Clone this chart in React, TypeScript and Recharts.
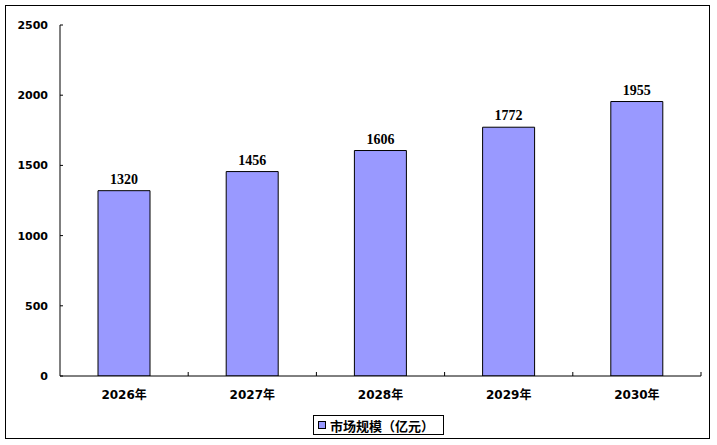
import React from 'react';
import { BarChart, Bar, XAxis, YAxis, LabelList, Legend } from 'recharts';

const categories = ['2026年', '2027年', '2028年', '2029年', '2030年'];
const marketSize = [1320, 1456, 1606, 1772, 1955];
const yTicks = [0, 500, 1000, 1500, 2000, 2500];
const seriesName = '市场规模（亿元）';

const data = categories.map((c, i) => ({ name: c, value: marketSize[i] }));

const W = 717;
const H = 445;
const PLOT_LEFT = 60;
const PLOT_RIGHT = 701;
const PLOT_TOP = 25;
const PLOT_BOTTOM = 376;
const X_AXIS_H = 30;
const BAND = (PLOT_RIGHT - PLOT_LEFT) / categories.length;

const YTick = (props: any) => {
  const { x, y, payload } = props;
  return (
    <g>
      <line x1={PLOT_LEFT} x2={PLOT_LEFT + 3} y1={y} y2={y} stroke="#000" strokeWidth={1} />
      <text x={x} y={y} dy="0.355em" textAnchor="end" fontFamily="DejaVu Sans" fontWeight="bold" fontSize={11} fill="#000">
        {payload.value}
      </text>
    </g>
  );
};

const XTick = (props: any) => {
  const { x, y, payload, index } = props;
  const left = x - BAND / 2;
  const isLast = index === categories.length - 1;
  return (
    <g>
      {index > 0 && (
        <line x1={left} x2={left} y1={PLOT_BOTTOM} y2={PLOT_BOTTOM - 4} stroke="#000" strokeWidth={1} />
      )}
      {isLast && (
        <line x1={x + BAND / 2} x2={x + BAND / 2} y1={PLOT_BOTTOM} y2={PLOT_BOTTOM - 4} stroke="#000" strokeWidth={1} />
      )}
      <text x={x} y={y} dy="0.71em" textAnchor="middle" fontFamily="DejaVu Sans, Noto Sans CJK SC" fontWeight="bold" fontSize={12} fill="#000">
        {payload.value}
      </text>
    </g>
  );
};

const LegendContent = () => (
  <div
    style={{
      boxSizing: 'border-box',
      width: 131,
      height: 20,
      border: '1px solid #000',
      background: '#fff',
      display: 'flex',
      alignItems: 'center',
      paddingLeft: 4,
    }}
  >
    <div style={{ boxSizing: 'border-box', width: 8, height: 8, background: '#9999FF', border: '1px solid #000', marginRight: 4 }} />
    <span style={{ fontFamily: 'Noto Sans CJK SC', fontWeight: 'bold', fontSize: 13, lineHeight: '13px', color: '#000', whiteSpace: 'nowrap' }}>
      {seriesName}
    </span>
  </div>
);

export default function App() {
  return (
    <div style={{ position: 'absolute', left: 0, top: 0, width: W, height: H, background: '#fff' }}>
      <div
        style={{
          position: 'absolute',
          left: 5,
          top: 5,
          width: 705,
          height: 434,
          border: '1px solid #000',
          boxSizing: 'border-box',
          pointerEvents: 'none',
        }}
      />
      <BarChart
        width={W}
        height={H}
        data={data}
        margin={{ top: PLOT_TOP, right: W - PLOT_RIGHT, bottom: H - PLOT_BOTTOM - X_AXIS_H, left: 10 }}
        barCategoryGap={0}
      >
        <YAxis
          width={PLOT_LEFT - 10}
          domain={[0, 2500]}
          ticks={yTicks}
          interval={0}
          tickLine={false}
          tickSize={0}
          tickMargin={12}
          axisLine={{ stroke: '#000', strokeWidth: 1 }}
          tick={<YTick />}
          allowDataOverflow
        />
        <XAxis
          dataKey="name"
          height={X_AXIS_H}
          interval={0}
          tickLine={false}
          tickSize={0}
          tickMargin={14}
          axisLine={{ stroke: '#000', strokeWidth: 1 }}
          tick={<XTick />}
        />
        <Legend
          layout="horizontal"
          verticalAlign="middle"
          align="center"
          content={<LegendContent />}
          wrapperStyle={{ left: 313, top: 415, width: 131, height: 20 }}
        />
        <Bar dataKey="value" name={seriesName} fill="#9999FF" stroke="#000" strokeWidth={1} barSize={52} isAnimationActive={false}>
          <LabelList
            dataKey="value"
            position="top"
            offset={7}
            fontFamily="Liberation Serif"
            fontWeight="bold"
            fontSize={14}
            fill="#000"
          />
        </Bar>
      </BarChart>
    </div>
  );
}
